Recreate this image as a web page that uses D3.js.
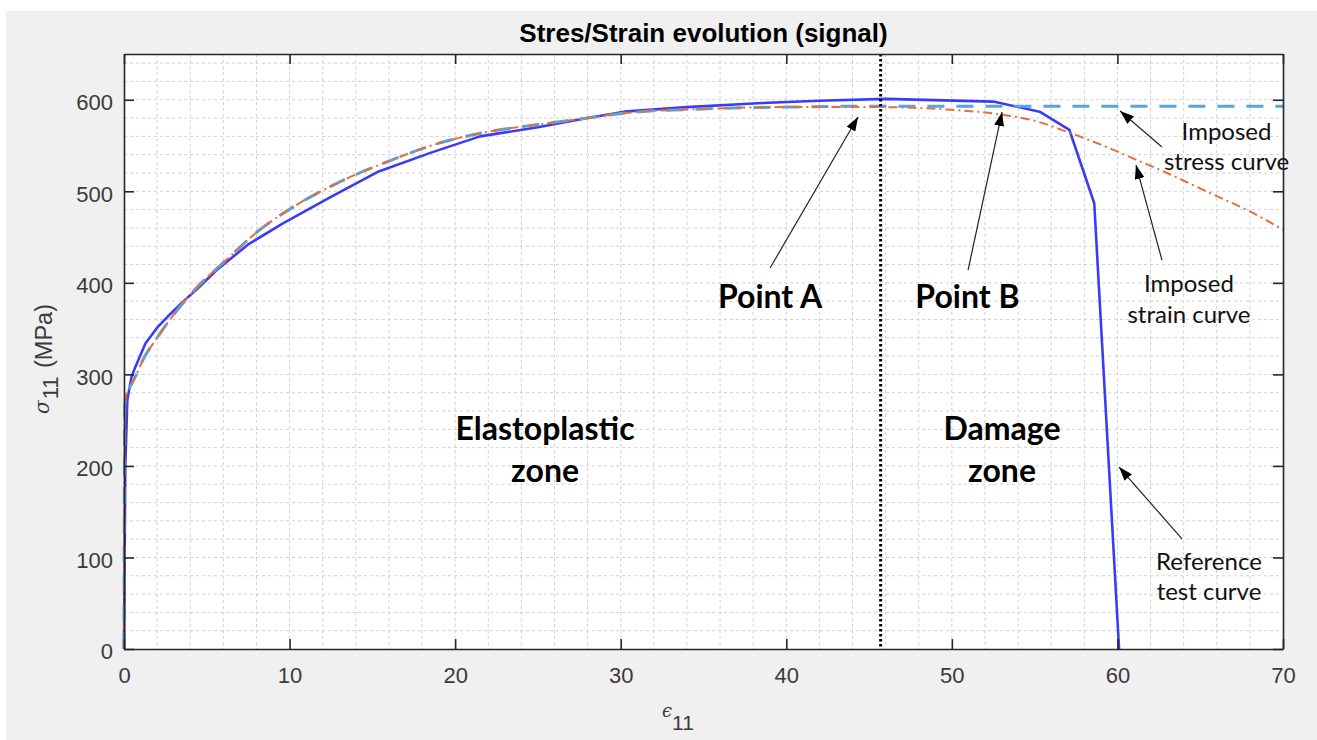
<!DOCTYPE html>
<html><head><meta charset="utf-8">
<script src="https://cdn.jsdelivr.net/npm/d3@7"></script>
<style>body{margin:0;background:#fff;overflow:hidden}</style>
</head><body><svg id="c" width="1317" height="740"></svg>
<script>
// ---- data ----
const refX = [0, 0.08, 0.2, 0.45, 0.66, 1.3, 2.0, 2.8, 3.6, 4.4, 5.6, 7.5, 9.6, 12.5, 15.3, 18.5, 21.5, 25, 28, 30.2, 34, 38, 42, 46, 52.5, 55.3, 57.1, 58.6, 60.1];
const refY = [0, 200, 272, 297, 307, 334, 351, 366, 380, 393, 414, 442, 465, 494, 521, 542, 560, 570, 580, 587, 592, 596, 599, 601, 598, 587, 567, 487, 0];
const strainX = [0, 0.05, 0.15, 0.36, 0.7, 1.15, 2, 2.78, 4.4, 6, 8, 10.6, 13, 16, 19.1, 21.7, 25, 28, 30, 35, 40, 45.5, 50, 52.5, 55, 57.1, 59, 61.2, 63, 65.6, 68, 70];
const strainY = [0, 265, 278, 286, 298, 316, 340, 360, 395, 422, 455, 487, 510, 533, 553, 564, 573, 580, 585, 590, 592, 592, 589, 585, 577, 564, 551, 534, 520, 498, 478, 458];
const stressX = [0, 0.05, 0.15, 0.36, 0.7, 1.15, 2, 2.78, 4.4, 6, 8, 10.6, 13, 16, 19.1, 21.7, 25, 28, 30, 35, 40, 45.5, 70];
const stressY = [0, 265, 278, 286, 298, 316, 340, 360, 395, 422, 455, 487, 510, 533, 553, 564, 573, 580, 585, 590, 592, 593, 593];
const boundaryX = 45.7;
const xTicks = [0, 10, 20, 30, 40, 50, 60, 70];
const yTicks = [0, 100, 200, 300, 400, 500, 600];
const titleText = "Stres/Strain evolution (signal)";
// annotations in data units: [tailX, tailY, tipX, tipY]
const arrowList = [
  [39.02, 416.2, 44.33, 581.2],
  [50.98, 414.0, 53.03, 586.6],
  [62.69, 548.4, 60.16, 587.7],
  [62.69, 424.9, 61.12, 528.7],
  [63.90, 120.2, 60.10, 198.8]
];
const boldLabels = [
  [39.02, 372.6, "Point A"],
  [50.94, 372.6, "Point B"],
  [25.43, 228.3, "Elastoplastic"],
  [25.43, 182.4, "zone"],
  [53.03, 228.3, "Damage"],
  [53.03, 182.4, "zone"]
];
const noteLabels = [
  [66.59, 556.1, "Imposed"],
  [66.59, 523.3, "stress curve"],
  [64.32, 390.0, "Imposed"],
  [64.32, 356.1, "strain curve"],
  [65.53, 86.3, "Reference"],
  [65.53, 53.5, "test curve"]
];

// ---- drawing ----
const svg = d3.select("#c");
const L = 124, R = 1283, T = 54, B = 649;
const x = d3.scaleLinear().domain([0, 70]).range([L, R]);
const y = d3.scaleLinear().domain([0, 650]).range([B, T]);

svg.append("rect").attr("x", 6).attr("y", 11).attr("width", 1311).attr("height", 729).attr("fill", "#f0f0f0");
svg.append("rect").attr("x", L).attr("y", T).attr("width", R - L).attr("height", B - T).attr("fill", "#fff");

// grid
const grid = svg.append("g").attr("stroke", "#d0d0d0").attr("stroke-width", 1).attr("stroke-dasharray", "3,3");
d3.range(2, 70, 2).forEach(v => grid.append("line").attr("x1", x(v)).attr("x2", x(v)).attr("y1", T).attr("y2", B));
d3.range(20, 650, 20).forEach(v => grid.append("line").attr("y1", y(v)).attr("y2", y(v)).attr("x1", L).attr("x2", R));

// title
svg.append("text").attr("x", (L + R) / 2).attr("y", 42).attr("text-anchor", "middle")
  .attr("font-family", "Liberation Sans, Arial, sans-serif").attr("font-weight", "bold").attr("font-size", 26)
  .attr("fill", "#000").text(titleText);

// curves
const lineOf = (xs, ys, curve) => d3.line().x(i => x(xs[i])).y(i => y(ys[i])).curve(curve)(d3.range(xs.length));
svg.append("path").attr("d", lineOf(refX, refY, d3.curveLinear)).attr("fill", "none")
  .attr("stroke", "#3b3bf5").attr("stroke-width", 2.6).attr("stroke-linejoin", "round");
svg.append("path").attr("d", lineOf(stressX, stressY, d3.curveMonotoneX)).attr("fill", "none")
  .attr("stroke", "#58a4dc").attr("stroke-width", 3).attr("stroke-dasharray", "17,12");
svg.append("path").attr("d", lineOf(strainX, strainY, d3.curveMonotoneX)).attr("fill", "none")
  .attr("stroke", "#e2703f").attr("stroke-width", 2).attr("stroke-dasharray", "9,4,2,4");

// boundary line
svg.append("line").attr("x1", x(boundaryX)).attr("x2", x(boundaryX)).attr("y1", T).attr("y2", B)
  .attr("stroke", "#000").attr("stroke-width", 3).attr("stroke-dasharray", "2.5,2.5");

// axes
const axStyle = g => {
  g.select(".domain").attr("stroke", "#262626").attr("stroke-width", 1.6);
  g.selectAll(".tick line").attr("stroke", "#262626").attr("stroke-width", 1.6);
  g.selectAll("text").attr("font-family", "Liberation Sans, Arial, sans-serif").attr("font-size", 22).attr("fill", "#3a3a3a");
};
svg.append("g").attr("transform", `translate(0,${B})`)
  .call(d3.axisBottom(x).tickValues(xTicks).tickSize(-10).tickSizeOuter(0).tickPadding(18).tickFormat(d3.format("d"))).call(axStyle);
svg.append("g").attr("transform", `translate(0,${T})`)
  .call(d3.axisTop(x).tickValues(xTicks).tickSize(-10).tickSizeOuter(0).tickFormat("")).call(axStyle);
svg.append("g").attr("transform", `translate(${L},0)`)
  .call(d3.axisLeft(y).tickValues(yTicks).tickSize(-10).tickSizeOuter(0).tickPadding(11).tickFormat(d3.format("d"))).call(axStyle)
  .selectAll("text").attr("dy", "0.45em");
svg.append("g").attr("transform", `translate(${R},0)`)
  .call(d3.axisRight(y).tickValues(yTicks).tickSize(-10).tickSizeOuter(0).tickFormat("")).call(axStyle);

// axis labels
const xl = svg.append("text").attr("x", 662).attr("y", 717)
  .attr("font-family", "Liberation Sans, Arial, sans-serif").attr("font-size", 22).attr("fill", "#3a3a3a");
xl.append("tspan").attr("font-family", "DejaVu Serif, serif").attr("font-style", "italic").attr("font-size", 18).text("ϵ");
xl.append("tspan").attr("dy", 13).attr("font-size", 21).text("11");

const yl = svg.append("text").attr("transform", "translate(49,414) rotate(-90)")
  .attr("font-family", "Liberation Sans, Arial, sans-serif").attr("font-size", 23.5).attr("fill", "#3a3a3a");
yl.append("tspan").attr("font-family", "DejaVu Serif, serif").attr("font-style", "italic").attr("font-size", 20).text("σ");
yl.append("tspan").attr("dy", 9).attr("dx", 1).attr("font-size", 22).text("11");
yl.append("tspan").attr("dy", -6).attr("dx", 2).text(" (MPa)");

// arrows
const defs = svg.append("defs");
defs.append("marker").attr("id", "ah").attr("viewBox", "0 0 14 10").attr("refX", 14).attr("refY", 5)
  .attr("markerWidth", 14).attr("markerHeight", 10).attr("markerUnits", "userSpaceOnUse").attr("orient", "auto")
  .append("path").attr("d", "M0,0L14,5L0,10Z").attr("fill", "#000");
arrowList.forEach(a => svg.append("line").attr("x1", x(a[0])).attr("y1", y(a[1])).attr("x2", x(a[2])).attr("y2", y(a[3]))
  .attr("stroke", "#222").attr("stroke-width", 1.2).attr("marker-end", "url(#ah)"));

// labels
boldLabels.forEach(d => svg.append("text").attr("x", x(d[0])).attr("y", y(d[1])).attr("text-anchor", "middle")
  .attr("font-family", "Lato, sans-serif").attr("font-weight", "bold").attr("font-size", 32).attr("fill", "#000").text(d[2]));
noteLabels.forEach(d => svg.append("text").attr("x", x(d[0])).attr("y", y(d[1])).attr("text-anchor", "middle")
  .attr("font-family", "Lato, sans-serif").attr("font-size", 24).attr("fill", "#111").text(d[2]));
</script></body></html>
